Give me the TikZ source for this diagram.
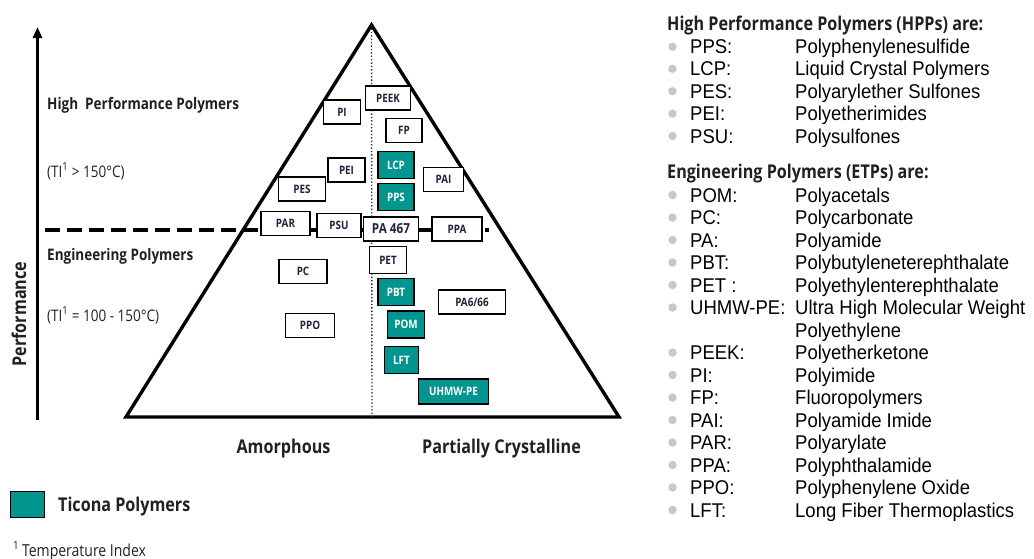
\documentclass[tikz,border=0pt]{standalone}
\usepackage{fontspec}
\setmainfont{Open Sans}[FakeStretch=0.85]
\newfontfamily\arialf{Liberation Sans}[FakeStretch=0.93]
\usetikzlibrary{arrows.meta}
\definecolor{tealc}{RGB}{0,150,143}
\definecolor{navy}{RGB}{30,36,62}
\definecolor{bulc}{RGB}{200,200,200}
\definecolor{txt}{RGB}{35,31,32}
\begin{document}
\begin{tikzpicture}[x=1pt,y=-1pt,
  wbox/.style={draw=black,line width=1.6pt,fill=white,inner sep=0pt,minimum height=24pt,
    font=\fontsize{11.6}{12}\selectfont\bfseries,text=navy},
  tbox/.style={wbox,fill=tealc,text=white,minimum height=27pt},
  lbl/.style={anchor=base west,inner sep=0pt,text=txt,font=\fontsize{15.9}{16}\selectfont\bfseries},
  sub/.style={anchor=base west,inner sep=0pt,text=txt,font=\fontsize{15.9}{16}\selectfont},
  axl/.style={anchor=base,inner sep=0pt,text=txt,font=\fontsize{19}{20}\selectfont\bfseries},
  hdr/.style={anchor=base west,inner sep=0pt,text=txt,font=\fontsize{19}{20}\selectfont\bfseries},
  itm/.style={anchor=base west,inner sep=0pt,text=black,font=\arialf\fontsize{19.9}{20}\selectfont},
  bul/.style={circle,fill=bulc,inner sep=0pt,minimum size=8.5pt}]
\useasboundingbox (0,0) rectangle (1034,558);
% axis
\coordinate (axb) at (37.5,420);
\coordinate (axt) at (37.5,27);
\draw[line width=3pt,-{Triangle[length=11pt,width=9pt]}] (axb) -- (axt);
\node[axl,rotate=90] (perf) at (26,314) {Performance};
% dashed level line
\coordinate (dl) at (45,230);
\coordinate (dr) at (489,230);
\draw[line width=3.6pt,dash pattern=on 15pt off 7pt] (dl) -- (dr);
% triangle
\coordinate (apex) at (371.5,25);
\coordinate (bl) at (126,417);
\coordinate (br) at (619,417);
\draw[line width=3.4pt,line join=miter] (apex) -- (br) -- (bl) -- cycle;
\coordinate (mb) at (372,417);
\draw[line width=1.4pt,dotted,black!80] (apex) -- (mb);
% boxes
\node[wbox,minimum width=45pt] (peek) at (388,98) {PEEK};
\node[wbox,minimum width=37pt] (pi) at (342,112) {PI};
\node[wbox,minimum width=36pt] (fp) at (404,130.5) {FP};
\node[tbox,minimum width=36pt] (lcp) at (396,165) {LCP};
\node[wbox,minimum width=37pt] (pei) at (346.5,170) {PEI};
\node[wbox,minimum width=40pt] (pai) at (443.5,179.5) {PAI};
\node[wbox,minimum width=47pt] (pes) at (302,189) {PES};
\node[tbox,minimum width=36pt] (pps) at (396,197) {PPS};
\node[wbox,minimum width=49pt] (par) at (285.5,223.5) {PAR};
\node[wbox,minimum width=44pt] (psu) at (339,225.5) {PSU};
\node[wbox,minimum width=55pt,font=\fontsize{13.8}{14}\selectfont\bfseries] (pa467) at (391,229) {PA 467};
\node[wbox,minimum width=50pt] (ppa) at (457,229) {PPA};
\node[wbox,minimum width=37pt,minimum height=27pt] (pet) at (388,260) {PET};
\node[wbox,minimum width=48pt] (pc) at (303,271.5) {PC};
\node[tbox,minimum width=36pt] (pbt) at (396,292) {PBT};
\node[wbox,minimum width=67pt] (pa666) at (472,302) {PA6/66};
\node[tbox,minimum width=37pt] (pom) at (406,324.5) {POM};
\node[wbox,minimum width=49pt] (ppo) at (310,325.5) {PPO};
\node[tbox,minimum width=34pt] (lft) at (401.5,360) {LFT};
\node[tbox,minimum width=70pt,minimum height=25pt] (uhmw) at (453.5,391.5) {UHMW-PE};
% left labels
\node[lbl] (hpp) at (47,109) {High\ \ Performance Polymers};
\node[sub] (ti1) at (47,177) {(TI\textsuperscript{1} > 150°C)};
\node[lbl] (etp) at (47,260) {Engineering Polymers};
\node[sub] (ti2) at (47,321) {(TI\textsuperscript{1} = 100 - 150°C)};
\node[axl] (amo) at (283.5,453) {Amorphous};
\node[axl] (pcr) at (501.5,453) {Partially Crystalline};
% legend
\node[draw=black,line width=1.5pt,fill=tealc,minimum width=34pt,minimum height=26pt,inner sep=0pt] (leg) at (27.5,504.5) {};
\node[axl,anchor=base west] (legt) at (58,511) {Ticona Polymers};
\node[sub,font=\fontsize{16.5}{17}\selectfont] (foot) at (13,556) {\textsuperscript{1}\,Temperature Index};
% right list
\node[hdr] (h1) at (667,30) {High Performance Polymers (HPPs) are:};
\node[hdr] (h2) at (667,178) {Engineering Polymers (ETPs) are:};
\foreach \ab/\de/\yy [count=\i] in {
  PPS:/Polyphenylenesulfide/46.7,
  LCP:/Liquid Crystal Polymers/68.8,
  PES:/Polyarylether Sulfones/91.2,
  PEI:/Polyetherimides/113.6,
  PSU:/Polysulfones/136,
  POM:/Polyacetals/195,
  PC:/Polycarbonate/217.5,
  PA:/Polyamide/240,
  PBT:/Polybutyleneterephthalate/262.5,
  PET :/Polyethylenterephthalate/285,
  UHMW-PE:/Ultra High Molecular Weight/307.5,
  PEEK:/Polyetherketone/352.5,
  PI:/Polyimide/375,
  FP:/Fluoropolymers/397.5,
  PAI:/Polyamide Imide/420,
  PAR:/Polyarylate/442.5,
  PPA:/Polyphthalamide/465,
  PPO:/Polyphenylene Oxide/487.5,
  LFT:/Long Fiber Thermoplastics/510}{
  \node[bul] (b\i) at (672.5,\yy) {};
  \node[itm] (a\i) at (690,\yy+7) {\ab};
  \node[itm] (d\i) at (795,\yy+7) {\de};
}
\node[itm] (d11b) at (795,337) {Polyethylene};
\end{tikzpicture}
\end{document}
